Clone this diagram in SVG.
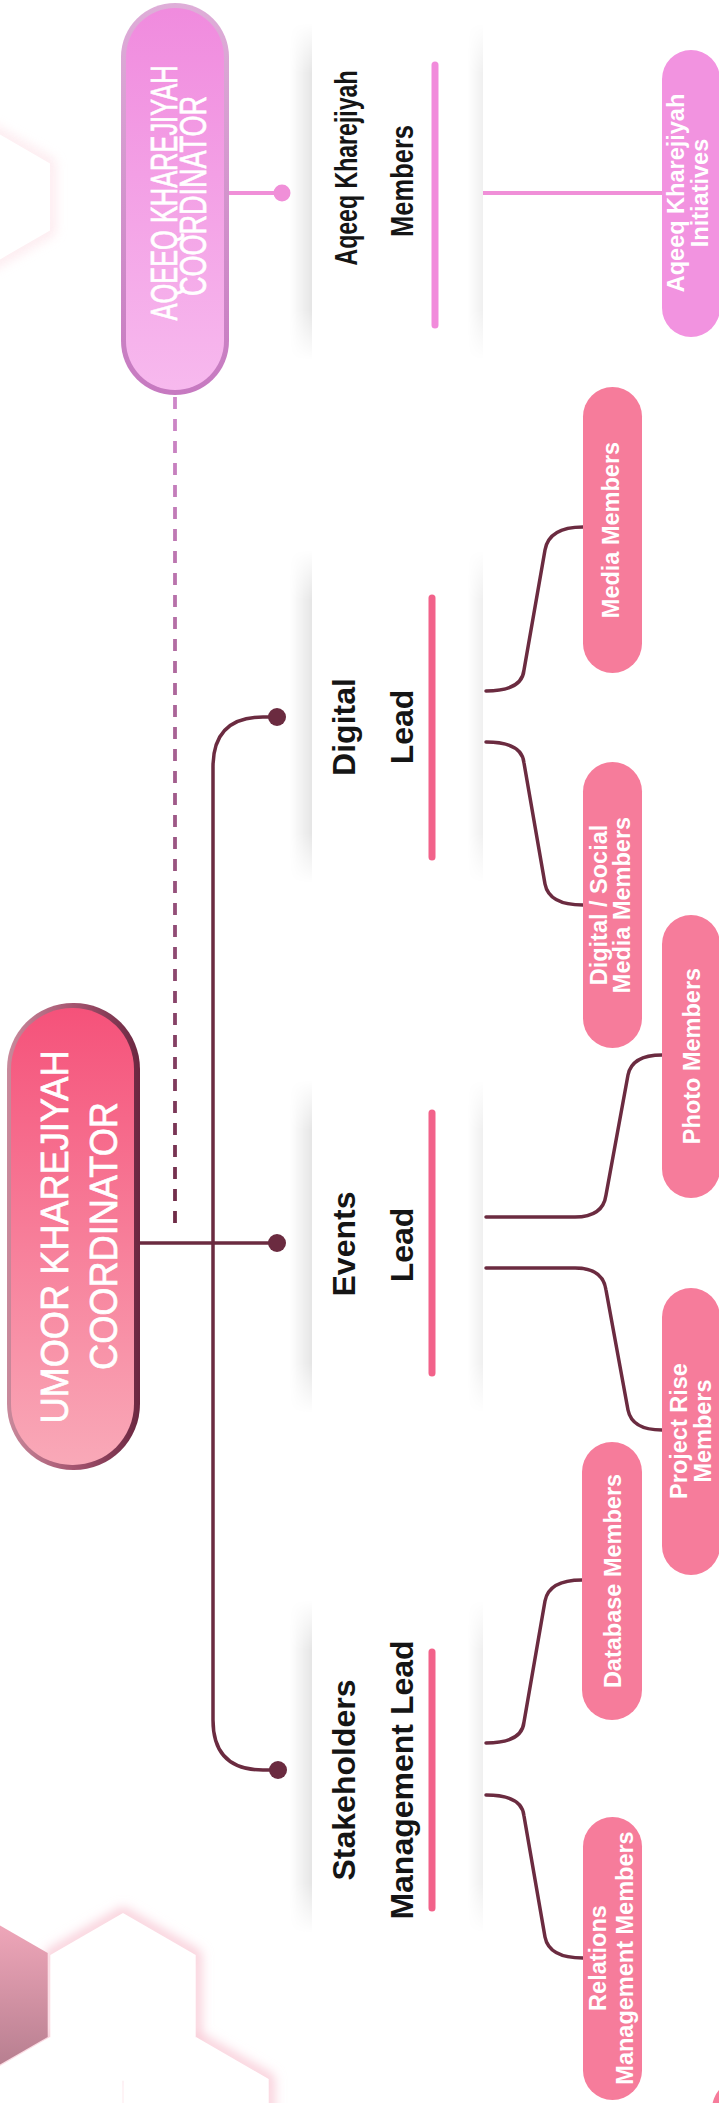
<svg xmlns="http://www.w3.org/2000/svg" width="719" height="2103" viewBox="0 0 719 2103">
<style>
.lead{font-family:'Liberation Sans',Arial,sans-serif;font-weight:700;font-size:32px;fill:#151515}
.pt{font-family:'Liberation Sans',Arial,sans-serif;font-weight:700;font-size:23.5px;fill:#ffffff}
.coord{font-family:'Liberation Sans',Arial,sans-serif;font-weight:400;fill:#ffffff;stroke:#ffffff;stroke-width:0.7}
.mpill{fill:#f67c9b}
.ipill{fill:#f293e0}
.conn{fill:none;stroke:#6b2b40;stroke-width:3.5;stroke-linecap:round}
.pconn{fill:none;stroke:#f08fd8;stroke-width:4}
.ul{stroke:#f2628a;stroke-width:7;stroke-linecap:round}
.ulp{stroke:#f18bdb;stroke-width:7;stroke-linecap:round}
.shl{fill:url(#shadowL);mask:url(#vfadeMask)}
.shr{fill:url(#shadowR);mask:url(#vfadeMask)}
</style>
<defs>
<filter id="blur6" x="-50%" y="-50%" width="200%" height="200%"><feGaussianBlur stdDeviation="6"/></filter>
<linearGradient id="vfade" x1="0" y1="0" x2="0" y2="1">
<stop offset="0" stop-color="#fff" stop-opacity="0"/>
<stop offset="0.15" stop-color="#fff" stop-opacity="1"/>
<stop offset="0.85" stop-color="#fff" stop-opacity="1"/>
<stop offset="1" stop-color="#fff" stop-opacity="0"/>
</linearGradient>
<mask id="vfadeMask" maskContentUnits="objectBoundingBox">
<rect x="0" y="0" width="1" height="1" fill="url(#vfade)"/>
</mask>
<linearGradient id="shadowL" x1="0" y1="0" x2="1" y2="0">
<stop offset="0" stop-color="#000" stop-opacity="0"/>
<stop offset="1" stop-color="#000" stop-opacity="0.1"/>
</linearGradient>
<linearGradient id="shadowR" x1="0" y1="0" x2="1" y2="0">
<stop offset="0" stop-color="#000" stop-opacity="0"/>
<stop offset="1" stop-color="#000" stop-opacity="0.06"/>
</linearGradient>
<linearGradient id="dashg" gradientUnits="userSpaceOnUse" x1="0" y1="395" x2="0" y2="1233">
<stop offset="0" stop-color="#cf88ca"/>
<stop offset="1" stop-color="#6e2a45"/>
</linearGradient>
<linearGradient id="umBorder" x1="0" y1="0" x2="1" y2="0">
<stop offset="0" stop-color="#c98a9c"/>
<stop offset="0.5" stop-color="#a55570"/>
<stop offset="1" stop-color="#6a2640"/>
</linearGradient>
<linearGradient id="umFill" x1="0" y1="0" x2="0" y2="1">
<stop offset="0" stop-color="#f5527a"/>
<stop offset="1" stop-color="#f9a9b8"/>
</linearGradient>
<linearGradient id="aqBorder" x1="0" y1="0" x2="0" y2="1">
<stop offset="0" stop-color="#deaed8"/>
<stop offset="1" stop-color="#c679c0"/>
</linearGradient>
<linearGradient id="aqFill" x1="0" y1="0" x2="0" y2="1">
<stop offset="0" stop-color="#f08bde"/>
<stop offset="1" stop-color="#f7b9ee"/>
</linearGradient>
<linearGradient id="hexSolid" x1="0" y1="0" x2="0" y2="1">
<stop offset="0" stop-color="#f4aabd"/>
<stop offset="1" stop-color="#b27b8c"/>
</linearGradient>
</defs>

<rect width="719" height="2103" fill="#ffffff"/>

<g id="background">
<polygon points="-8,130 50,163.5 50,230.5 -8,264 -66,230.5 -66,163.5" fill="none" stroke="#fcdde4" stroke-width="10" filter="url(#blur6)" opacity="0.7"/>
<polygon points="-8,130 50,163.5 50,230.5 -8,264 -66,230.5 -66,163.5" fill="#ffffff"/>
<g filter="url(#blur6)" fill="none" stroke="#f8c6d3" stroke-width="10">
<polygon points="123,1913 195.7,1955 195.7,2039 123,2081 50.3,2039 50.3,1955"/>
<polygon points="50,2037 122.7,2079 122.7,2163 50,2205 -22.7,2163 -22.7,2079"/>
<polygon points="196,2037 268.7,2079 268.7,2163 196,2205 123.3,2163 123.3,2079"/>
</g>
<polygon points="123,1913 195.7,1955 195.7,2039 123,2081 50.3,2039 50.3,1955" fill="#ffffff"/>
<polygon points="50,2037 122.7,2079 122.7,2163 50,2205 -22.7,2163 -22.7,2079" fill="#ffffff"/>
<polygon points="196,2037 268.7,2079 268.7,2163 196,2205 123.3,2163 123.3,2079" fill="#ffffff"/>
<polygon points="-25,1911 47.7,1953 47.7,2037 -25,2079 -97.7,2037 -97.7,1953" fill="url(#hexSolid)"/>
</g>

<g id="panels">
<rect class="shl" x="290" y="23" width="22" height="337"/>
<rect class="shr" x="467" y="23" width="16" height="337"/>
<rect class="shl" x="290" y="550" width="22" height="333"/>
<rect class="shr" x="467" y="550" width="16" height="333"/>
<rect class="shl" x="290" y="1080" width="22" height="333"/>
<rect class="shr" x="467" y="1080" width="16" height="333"/>
<rect class="shl" x="290" y="1600" width="22" height="333"/>
<rect class="shr" x="467" y="1600" width="16" height="333"/>
</g>

<g id="connectors">
<line x1="175" y1="397" x2="175" y2="1233" stroke="url(#dashg)" stroke-width="3.8" stroke-dasharray="12 10"/>
<path class="conn" d="M277,717 H263 Q213,717 213,767 V1720 Q213,1770 263,1770 H278"/>
<path class="conn" d="M140,1243 H277"/>
<circle cx="277" cy="717" r="9" fill="#6b2b40"/>
<circle cx="277" cy="1243" r="9" fill="#6b2b40"/>
<circle cx="278" cy="1770" r="9" fill="#6b2b40"/>
<path class="pconn" d="M229,193 H282"/>
<circle cx="282" cy="193" r="8.5" fill="#f08fd8"/>
<path class="pconn" d="M483,193 H662"/>
<path class="conn" d="M486,691 Q522,691 524,670 L545,550 Q549,527 583,527"/>
<path class="conn" d="M486,742 Q522,742 524,763 L545,884 Q549,905 583,905"/>
<path class="conn" d="M486,1217 H575 Q603,1217 606,1195 L628,1075 Q632,1055 662,1055"/>
<path class="conn" d="M486,1268 H575 Q603,1268 606,1290 L628,1410 Q632,1430 662,1430"/>
<path class="conn" d="M486,1743 Q522,1743 524,1722 L545,1601 Q549,1580 582,1580"/>
<path class="conn" d="M486,1795 Q522,1795 524,1816 L545,1937 Q549,1958 583,1958"/>
</g>

<g id="aqeeq-coordinator">
<rect x="121" y="3" width="108" height="392" rx="54" fill="url(#aqBorder)"/>
<rect x="126" y="8" width="98" height="382" rx="49" fill="url(#aqFill)"/>
<text class="coord" font-size="36" text-anchor="middle" textLength="255" lengthAdjust="spacingAndGlyphs" transform="translate(177,193) rotate(-90)">AQEEQ KHAREJIYAH</text>
<text class="coord" font-size="36" text-anchor="middle" textLength="200" lengthAdjust="spacingAndGlyphs" transform="translate(206,196) rotate(-90)">COORDINATOR</text>
</g>

<g id="umoor-coordinator">
<rect x="7" y="1003" width="133" height="467" rx="66" fill="url(#umBorder)"/>
<rect x="11" y="1008" width="123" height="457" rx="61" fill="url(#umFill)"/>
<text class="coord" font-size="38" text-anchor="middle" textLength="373" lengthAdjust="spacingAndGlyphs" transform="translate(68,1237) rotate(-90)">UMOOR KHAREJIYAH</text>
<text class="coord" font-size="38" text-anchor="middle" textLength="268" lengthAdjust="spacingAndGlyphs" transform="translate(117,1236) rotate(-90)">COORDINATOR</text>
</g>

<g id="aqeeq-members">
<text class="lead" text-anchor="middle" textLength="195" lengthAdjust="spacingAndGlyphs" transform="translate(357,168) rotate(-90)">Aqeeq Kharejiyah</text>
<text class="lead" text-anchor="middle" textLength="112" lengthAdjust="spacingAndGlyphs" transform="translate(413,181) rotate(-90)">Members</text>
<line class="ulp" x1="435" y1="65" x2="435" y2="325"/>
</g>

<g id="digital-lead">
<text class="lead" text-anchor="middle" transform="translate(355,727) rotate(-90)">Digital</text>
<text class="lead" text-anchor="middle" transform="translate(413,727) rotate(-90)">Lead</text>
<line class="ul" x1="432" y1="598" x2="432" y2="857"/>
</g>

<g id="events-lead">
<text class="lead" text-anchor="middle" transform="translate(355,1244) rotate(-90)">Events</text>
<text class="lead" text-anchor="middle" transform="translate(413,1245) rotate(-90)">Lead</text>
<line class="ul" x1="432" y1="1113" x2="432" y2="1373"/>
</g>

<g id="stakeholders-lead">
<text class="lead" text-anchor="middle" transform="translate(355,1780) rotate(-90)">Stakeholders</text>
<text class="lead" text-anchor="middle" transform="translate(413,1780) rotate(-90)">Management Lead</text>
<line class="ul" x1="432" y1="1652" x2="432" y2="1908"/>
</g>

<g id="aqeeq-initiatives">
<rect class="ipill" x="662" y="50" width="58" height="287" rx="29"/>
<text class="pt" text-anchor="middle" transform="translate(684,193) rotate(-90)">Aqeeq Kharejiyah</text>
<text class="pt" text-anchor="middle" transform="translate(708,193) rotate(-90)">Initiatives</text>
</g>

<g id="media-members">
<rect class="mpill" x="583" y="387" width="59" height="286" rx="29.5"/>
<text class="pt" text-anchor="middle" transform="translate(619,530) rotate(-90)">Media Members</text>
</g>

<g id="digital-social-media-members">
<rect class="mpill" x="583" y="762" width="59" height="286" rx="29.5"/>
<text class="pt" text-anchor="middle" transform="translate(607,905) rotate(-90)">Digital / Social</text>
<text class="pt" text-anchor="middle" transform="translate(630,905) rotate(-90)">Media Members</text>
</g>

<g id="photo-members">
<rect class="mpill" x="662" y="915" width="58" height="283" rx="29"/>
<text class="pt" text-anchor="middle" transform="translate(700,1056) rotate(-90)">Photo Members</text>
</g>

<g id="project-rise-members">
<rect class="mpill" x="662" y="1288" width="58" height="287" rx="29"/>
<text class="pt" text-anchor="middle" transform="translate(687,1431) rotate(-90)">Project Rise</text>
<text class="pt" text-anchor="middle" transform="translate(711,1431) rotate(-90)">Members</text>
</g>

<g id="database-members">
<rect class="mpill" x="582" y="1442" width="60" height="278" rx="30"/>
<text class="pt" text-anchor="middle" transform="translate(621,1581) rotate(-90)">Database Members</text>
</g>

<g id="relations-management-members">
<rect class="mpill" x="583" y="1817" width="59" height="283" rx="29.5"/>
<text class="pt" text-anchor="middle" transform="translate(606,1958) rotate(-90)">Relations</text>
<text class="pt" text-anchor="middle" transform="translate(633,1958) rotate(-90)">Management Members</text>
</g>

<g id="partial-pill">
<rect class="mpill" x="712" y="2080" width="60" height="80" rx="29"/>
</g>
</svg>
